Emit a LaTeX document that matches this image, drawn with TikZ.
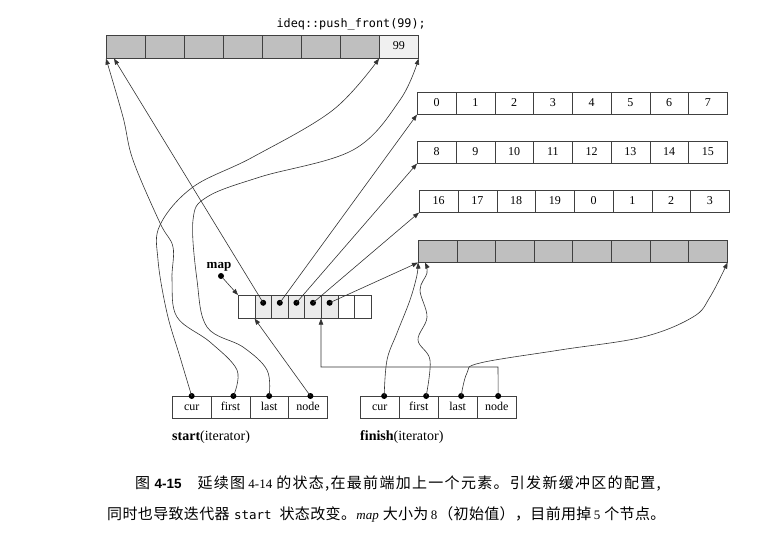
\documentclass[tikz,border=0pt]{standalone}
\usepackage{fontspec}
\setmainfont{Liberation Serif}
\newfontfamily\cjk{Noto Sans CJK SC}
\newfontfamily\monof{DejaVu Sans Mono}
\newfontfamily\capsans{Liberation Sans}
\usetikzlibrary{arrows.meta,calc}
\newdimen\cjkgap
\newcommand\cjkspread[1]{{\cjk\fontsize{15}{16}\selectfont\cjkspreadaux#1\relax}}
\def\cjkspreadaux#1{\ifx#1\relax\else#1\hskip\cjkgap\expandafter\cjkspreadaux\fi}
\begin{document}
\begin{tikzpicture}[x=1pt,y=-1pt,
 cellbase/.style={draw=black!75, line width=0.6pt, anchor=north west, inner sep=0pt, text height=8.5pt, text depth=2.5pt, font=\fontsize{12}{13}\selectfont},
 bufcell/.style={cellbase, minimum width=38.75pt, minimum height=22pt},
 topcell/.style={cellbase, minimum width=39pt, minimum height=23pt},
 mapcell/.style={cellbase, minimum width=16.6pt, minimum height=23pt},
 itcell/.style={cellbase, minimum width=38.75pt, minimum height=22pt},
 shaded/.style={fill=black!25},
 conn/.style={draw=black!80, line width=0.6pt, -{Triangle[length=6pt,width=4.5pt]}},
 dotp/.style={circle, fill=black, inner sep=0pt, minimum size=6pt},
 lbl/.style={inner sep=0pt, anchor=base west, font=\fontsize{14}{16}\selectfont},
 captext/.style={inner sep=0pt, anchor=base west, font=\fontsize{13}{14}\selectfont},
]
\useasboundingbox (0,0) rectangle (758,537);
% top buffer
\node[inner sep=0pt, anchor=base east, font=\monof\fontsize{11.8}{13}\selectfont] (cmd) at (426,28) {ideq::push\_front(99);};
\foreach \i in {0,...,6} \node[topcell, shaded] (t\i) at (106+39*\i,35) {};
\node[topcell, fill=black!6] (t7) at (379,35) {99};
% right buffers
\foreach \v [count=\i from 0] in {0,...,7} \node[bufcell] (a\i) at (417+38.75*\i,92) {\v};
\foreach \v [count=\i from 0] in {8,...,15} \node[bufcell] (b\i) at (417+38.75*\i,141) {\v};
\foreach \v [count=\i from 0] in {16,17,18,19,0,1,2,3} \node[bufcell] (c\i) at (419+38.75*\i,190) {\v};
\foreach \i in {0,...,7} \node[bufcell, shaded] (d\i) at (418+38.6*\i,240) {};
% map
\foreach \i in {0,6,7} \node[mapcell] (m\i) at (238+16.6*\i,295) {};
\foreach \i in {1,...,5} {
  \node[mapcell, fill=black!8] (m\i) at (238+16.6*\i,295) {};
  \node[dotp] (md\i) at ([yshift=4pt]m\i.center) {};
}
\node[inner sep=0pt, anchor=base, font=\bfseries\fontsize{13}{14}\selectfont] (maplbl) at (219,269) {map};
\node[dotp] (mapdot) at (221,276) {};
\draw[conn] (mapdot) -- (m0.north west);
% iterators
\foreach \t [count=\i from 0] in {cur,first,last,node} {
  \node[itcell] (s\i) at (172+38.75*\i,396) {\t};
  \node[itcell] (f\i) at (360+39*\i,396) {\t};
}
\node[dotp] (sd0) at (s0.north) {};
\node[dotp] (sd1) at ([xshift=3pt]s1.north) {};
\node[dotp] (sd2) at (s2.north) {};
\node[dotp] (sd3) at ([xshift=2.5pt]s3.north) {};
\node[dotp] (fd0) at ([xshift=4.5pt]f0.north) {};
\node[dotp] (fd1) at ([xshift=7.5pt]f1.north) {};
\node[dotp] (fd2) at ([xshift=3.5pt]f2.north) {};
\node[dotp] (fd3) at ([xshift=1.5pt]f3.north) {};
\node[lbl] (slbl) at (172,440) {\textbf{start}(iterator)};
\node[lbl] (flbl) at (360,440) {\textbf{finish}(iterator)};
% map pointers
\draw[conn] (md1.center) -- ([xshift=8pt]t0.south west);
\draw[conn] (md2.center) -- (a0.south west);
\draw[conn] (md3.center) -- (b0.south west);
\draw[conn] (md4.center) -- (c0.south west);
\draw[conn] (md5.center) -- (d0.south west);
% start pointers
\draw[conn] (sd3.center) -- (m1.south west);
\draw[conn] plot[smooth, tension=0.6] coordinates {(sd0.center) (180,357) (167,313) (158,260) (160,225) (193,187) (253,157) (333,110) (t7.south west)};
\draw[conn] plot[smooth, tension=0.6] coordinates {(sd1.center) (237,370) (210,342) (177,317) (172,280) (173,247) (160,223) (133,160) (123,117) (t0.south west)};
\draw[conn] plot[smooth, tension=0.6] coordinates {(sd2.center) (267,370) (243,347) (207,327) (197,280) (193,220) (207,197) (260,177) (353,150) (400,100) (t7.south east)};
% finish pointers
\draw[conn] plot[smooth, tension=0.6] coordinates {(fd0.center) (387,360) (397,333) (410,300) (417,275) (d0.south west)};
\draw[conn] plot[smooth, tension=0.6] coordinates {(fd1.center) (430,360) (418,340) (427,317) (420,290) (427,273) ([xshift=7pt]d0.south west)};
\draw[conn] plot[smooth, tension=0.6] coordinates {(fd2.center) (467,373) (480,363) (560,350) (643,337) (693,317) (710,297) (d7.south east)};
\coordinate (fk) at (498,367);
\draw[conn] (fd3.center) -- (fk) -| (m5.south west);
% caption
\node[captext] (cap1) at (135,488) {\global\cjkgap=1.3pt\cjkspread{图}\hspace{3pt}{\capsans\bfseries\fontsize{13.5}{14}\selectfont 4-15}\hspace{16pt}\cjkspread{延续图}\hspace{2pt}4-14\hspace{4pt}\cjkspread{的状态,在最前端加上一个元素。引发新缓冲区的配置,}};
\node[captext] (cap2) at (107,519) {\global\cjkgap=0.35pt\cjkspread{同时也导致迭代器}\hspace{4pt}{\monof\fontsize{12.5}{13}\selectfont start}\hspace{8pt}\cjkspread{状态改变。}\textit{map}\hspace{4pt}\cjkspread{大小为}\hspace{2pt}8\hspace{1pt}\cjkspread{（初始值），目前用掉}\hspace{2pt}5\hspace{4pt}\cjkspread{个节点。}};
\end{tikzpicture}
\end{document}
